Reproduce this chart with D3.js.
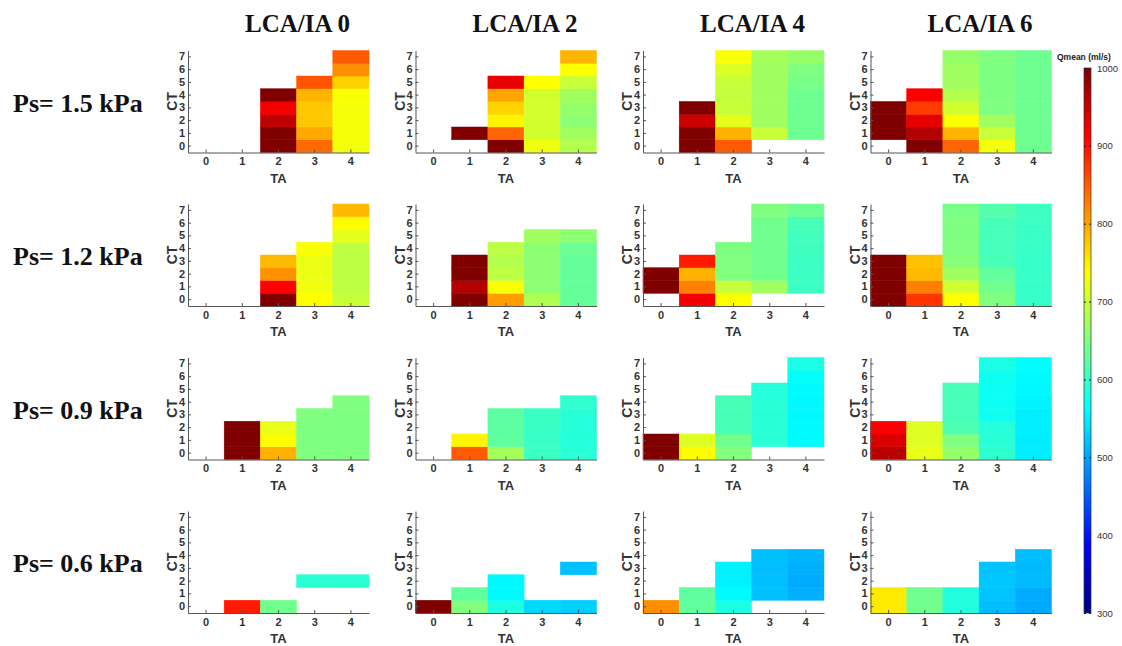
<!DOCTYPE html>
<html>
<head>
<meta charset="utf-8">
<script src="https://cdn.jsdelivr.net/npm/d3@7"></script>
<style>
  html, body { margin: 0; padding: 0; background: #fff; }
  svg { display: block; }
  .axis path, .axis line { stroke: #555; stroke-width: 1; }
  .axis text { font-family: "Liberation Sans", Arial, sans-serif; font-weight: bold; font-size: 11px; fill: #333; }
  .cb text { font-family: "Liberation Sans", Arial, sans-serif; font-size: 9.5px; fill: #333; }
</style>
</head>
<body>
<svg id="chart" width="1122" height="646"></svg>
<script>
// Mean flow (Qmean, ml/s) for each TA (columns) × CT (rows 0..7) combination.
// Each panel lists five TA columns; every column holds CT values from 0 upward, null = not simulated.
const _ = null;

const lcaLabels = ["LCA/IA 0", "LCA/IA 2", "LCA/IA 4", "LCA/IA 6"];
const psLabels = ["Ps= 1.5 kPa", "Ps= 1.2 kPa", "Ps= 0.9 kPa", "Ps= 0.6 kPa"];
const taTicks = [0, 1, 2, 3, 4];
const ctTicks = [0, 1, 2, 3, 4, 5, 6, 7];
const colorTicks = [300, 400, 500, 600, 700, 800, 900, 1000];
const colorTitle = "Qmean (ml/s)";

const qmeanPs15 = [
  [[], [], [1000, 1000, 955, 920, 1000], [840, 797, 776, 776, 789, 855], [730, 732, 732, 732, 735, 770, 816, 851]],
  [[], [_, 1000], [1000, 843, 745, 768, 800, 930], [727, 706, 706, 708, 706, 737], [685, 672, 659, 665, 672, 699, 738, 789]],
  [[], [1000, 1000, 947, 1000], [851, 792, 720, 699, 696, 699, 713, 734], [_, 699, 672, 672, 672, 672, 672, 676], [_, 638, 638, 638, 638, 645, 650, 665]],
  [[_, 1000, 1000, 1000], [1000, 965, 930, 872, 915], [844, 789, 738, 706, 685, 672, 672, 665], [730, 699, 672, 650, 648, 648, 648, 650], [638, 638, 638, 638, 638, 638, 638, 638]]
];
const qmeanPs12 = [
  [[], [], [1000, 912, 814, 785], [738, 728, 724, 724, 734], [699, 692, 692, 692, 692, 720, 740, 785]],
  [[], [1000, 965, 1000, 1000], [805, 735, 692, 685, 690], [681, 659, 659, 659, 659, 672], [632, 632, 632, 632, 636, 659]],
  [[_, 1000, 1000], [920, 825, 792, 895], [738, 699, 652, 650, 648], [_, 672, 640, 640, 640, 640, 640, 650], [_, 604, 604, 604, 606, 608, 612, 638]],
  [[1000, 1000, 1000, 1000], [877, 825, 785, 780], [738, 706, 672, 655, 650, 650, 650, 645], [650, 640, 630, 612, 610, 610, 612, 620], [600, 600, 600, 600, 600, 602, 604, 606]]
];
const qmeanPs09 = [
  [[], [1000, 1000, 1000], [792, 738, 722], [650, 648, 648, 650], [648, 648, 648, 648, 650]],
  [[], [850, 745], [676, 628, 626, 626], [604, 602, 602, 602], [590, 588, 588, 590, 596]],
  [[1000, 1000], [740, 715], [652, 640, 612, 612, 612], [_, 592, 590, 590, 590, 588], [_, 560, 560, 558, 558, 560, 565, 580]],
  [[960, 937, 915], [722, 715, 715], [665, 650, 615, 610, 610, 612], [595, 590, 588, 572, 570, 570, 572, 580], [550, 550, 552, 552, 555, 558, 560, 562]]
];
const qmeanPs06 = [
  [[], [895], [640], [_, _, 592], [_, _, 592]],
  [[1000], [652, 630], [583, 560, 558], [536], [530, _, _, 520]],
  [[815], [630, 628], [582, 560, 553, 553], [_, 520, 518, 518, 520], [_, 508, 505, 508, 512]],
  [[752, 752], [640, 640], [585, 585], [518, 522, 525, 522], [505, 505, 515, 515, 518]]
];
const qmeanRows = [qmeanPs15, qmeanPs12, qmeanPs09, qmeanPs06];

// Jet colormap over the 300–1000 ml/s range
const jet = d3.scaleLinear()
  .domain([300, 387.5, 562.5, 737.5, 912.5, 1000])
  .range(["#000080", "#0000ff", "#00ffff", "#ffff00", "#ff0000", "#800000"])
  .clamp(true);

const svg = d3.select("#chart");
svg.append("rect").attr("width", 1122).attr("height", 646).attr("fill", "#fff");

const panelW = 181, panelH = 102;
const colLeft = c => 188 + c * 227.5;
const rowTop = r => 50.5 + r * 153.5;

const x = d3.scaleBand().domain(taTicks).range([0, panelW]);
const y = d3.scaleBand().domain(ctTicks).range([panelH, 0]);

// Column titles
lcaLabels.forEach((lab, c) => {
  svg.append("text")
    .attr("x", colLeft(c) + panelW / 2 + 19)
    .attr("y", 32)
    .attr("text-anchor", "middle")
    .style("font-family", "'Liberation Serif', 'Times New Roman', serif")
    .style("font-weight", "bold")
    .style("font-size", "25px")
    .attr("fill", "#111")
    .text(lab);
});

// Row titles
psLabels.forEach((lab, r) => {
  svg.append("text")
    .attr("x", 13)
    .attr("y", rowTop(r) + panelH / 2 + 10)
    .style("font-family", "'Liberation Serif', 'Times New Roman', serif")
    .style("font-weight", "bold")
    .style("font-size", "26px")
    .attr("fill", "#111")
    .text(lab);
});

qmeanRows.forEach((row, r) => {
  row.forEach((panel, c) => {
    const g = svg.append("g").attr("transform", `translate(${colLeft(c)},${rowTop(r)})`);

    const cells = [];
    panel.forEach((col, ti) => col.forEach((v, ci) => {
      if (v !== null && v !== undefined) cells.push({ ta: taTicks[ti], ct: ctTicks[ci], v });
    }));

    g.selectAll("rect.cell").data(cells).join("rect")
      .attr("class", "cell")
      .attr("x", d => x(d.ta))
      .attr("y", d => y(d.ct))
      .attr("width", x.bandwidth())
      .attr("height", y.bandwidth())
      .attr("fill", d => jet(d.v))
      .attr("stroke", d => jet(d.v))
      .attr("stroke-width", 0.5);

    g.append("g").attr("class", "axis")
      .attr("transform", `translate(0,${panelH})`)
      .call(d3.axisBottom(x).tickSizeInner(-3).tickSizeOuter(0).tickPadding(5));

    g.append("g").attr("class", "axis")
      .call(d3.axisLeft(y).tickSizeInner(-3).tickSizeOuter(0).tickPadding(3));

    g.append("text")
      .attr("x", panelW / 2)
      .attr("y", panelH + 30)
      .attr("text-anchor", "middle")
      .style("font-family", "'Liberation Sans', Arial, sans-serif")
      .style("font-weight", "bold")
      .style("font-size", "13px")
      .attr("fill", "#333")
      .text("TA");

    g.append("text")
      .attr("transform", `translate(-11,${panelH / 2}) rotate(-90)`)
      .attr("text-anchor", "middle")
      .style("font-family", "'Liberation Sans', Arial, sans-serif")
      .style("font-weight", "bold")
      .style("font-size", "14px")
      .attr("fill", "#333")
      .text("CT");
  });
});

// Colorbar
const cbX = 1084, cbW = 7;
const cbScale = d3.scaleLinear().domain([300, 1000]).range([613, 68]);
const grad = svg.append("defs").append("linearGradient")
  .attr("id", "jetGrad").attr("x1", 0).attr("y1", 1).attr("x2", 0).attr("y2", 0);
jet.domain().forEach(v => {
  grad.append("stop")
    .attr("offset", (v - 300) / 700)
    .attr("stop-color", jet(v));
});
svg.append("rect")
  .attr("x", cbX).attr("y", cbScale(1000))
  .attr("width", cbW).attr("height", cbScale(300) - cbScale(1000))
  .attr("fill", "url(#jetGrad)")
  .attr("stroke", "#333").attr("stroke-width", 0.7);

svg.append("g").attr("class", "cb")
  .attr("transform", `translate(${cbX + cbW},0)`)
  .call(d3.axisRight(cbScale).tickValues(colorTicks).tickFormat(d3.format("d"))
    .tickSizeInner(-2).tickSizeOuter(0).tickPadding(6))
  .call(s => s.select(".domain").remove())
  .call(s => s.selectAll("line").attr("stroke", "#222"));

svg.append("g").attr("class", "cb")
  .attr("transform", `translate(${cbX},0)`)
  .call(d3.axisLeft(cbScale).tickValues(colorTicks).tickSizeInner(-2).tickSizeOuter(0).tickFormat(""))
  .call(s => s.select(".domain").remove())
  .call(s => s.selectAll("line").attr("stroke", "#222"));

svg.append("text")
  .attr("x", 1057).attr("y", 60)
  .style("font-family", "'Liberation Sans', Arial, sans-serif")
  .style("font-weight", "bold")
  .style("font-size", "8.5px")
  .attr("fill", "#222")
  .text(colorTitle);
</script>
</body>
</html>
